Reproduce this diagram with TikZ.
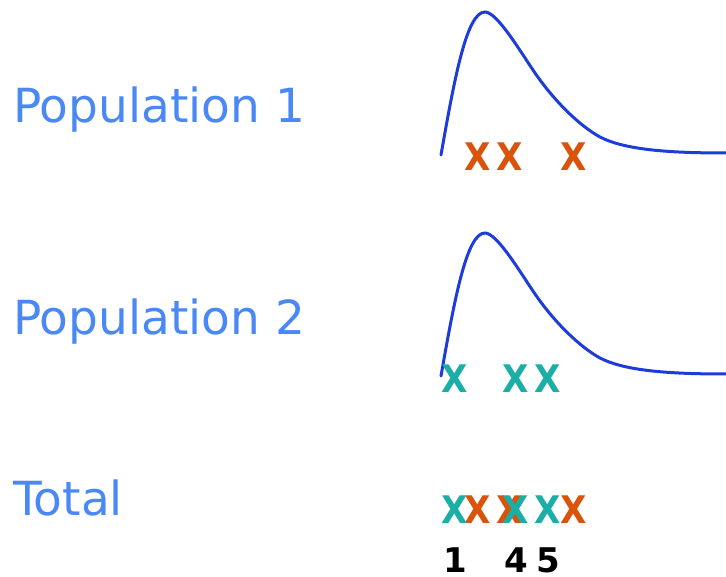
\documentclass[tikz,border=0pt]{standalone}
\usepackage{fontspec}
\setmainfont{DejaVu Sans}
\newfontfamily\markfont{DejaVu Sans Condensed}
\usetikzlibrary{positioning}
\definecolor{labelblue}{HTML}{4A88F6}
\definecolor{curveblue}{HTML}{1D3CD9}
\definecolor{sampleorange}{HTML}{D9530A}
\definecolor{sampleteal}{HTML}{1AAEA7}

\begin{document}
\begin{tikzpicture}[
        x=1pt, y=-1pt,
        poplabel/.style={anchor=base west, inner sep=0pt, text=labelblue, font=\fontsize{47}{52}\selectfont},
        xmark/.style={anchor=base, inner sep=0pt, font=\markfont\bfseries\fontsize{38}{40}\selectfont},
        rank/.style={anchor=base, inner sep=0pt, text=black, font=\bfseries\fontsize{34}{38}\selectfont},
        density/.style={draw=curveblue, line width=3pt, line cap=round}
    ]
        \useasboundingbox (0,0) rectangle (726,577);

        % labels
        \node[poplabel] (pop1) at (13,123) {Population 1};
        \node[poplabel] (pop2) at (13,335) {Population 2};
        \node[poplabel] (total) at (13,515) {Total};

        % skewed densities
        \foreach \dy in {0,221} {
            \draw[density, shift={(0,\dy)}] (441,155) .. controls (455,75) and (467,12) .. (485,12)
                .. controls (497,12) and (520,51) .. (535,73)
                .. controls (555,102) and (580,126) .. (600,137)
                .. controls (625,150) and (670,153) .. (726,153);
        }

        % samples
        \foreach \x [count=\i] in {478,510,574} {
            \node[xmark, text=sampleorange] (a\i) at (\x,171) {X};
        }
        \foreach \x [count=\i] in {455,516,548} {
            \node[xmark, text=sampleteal] (b\i) at (\x,392) {X};
        }

        % pooled samples
        \foreach \x [count=\i] in {478,510,574} {
            \node[xmark, text=sampleorange] (ta\i) at (\x,523) {X};
        }
        \foreach \x [count=\i] in {455,516,548} {
            \node[xmark, text=sampleteal] (tb\i) at (\x,523) {X};
        }

        % ranks
        \node[rank] (r1) at (455,572) {1};
        \node[rank] (r4) at (516,572) {4};
        \node[rank] (r5) at (548,572) {5};
    \end{tikzpicture}
\end{document}
